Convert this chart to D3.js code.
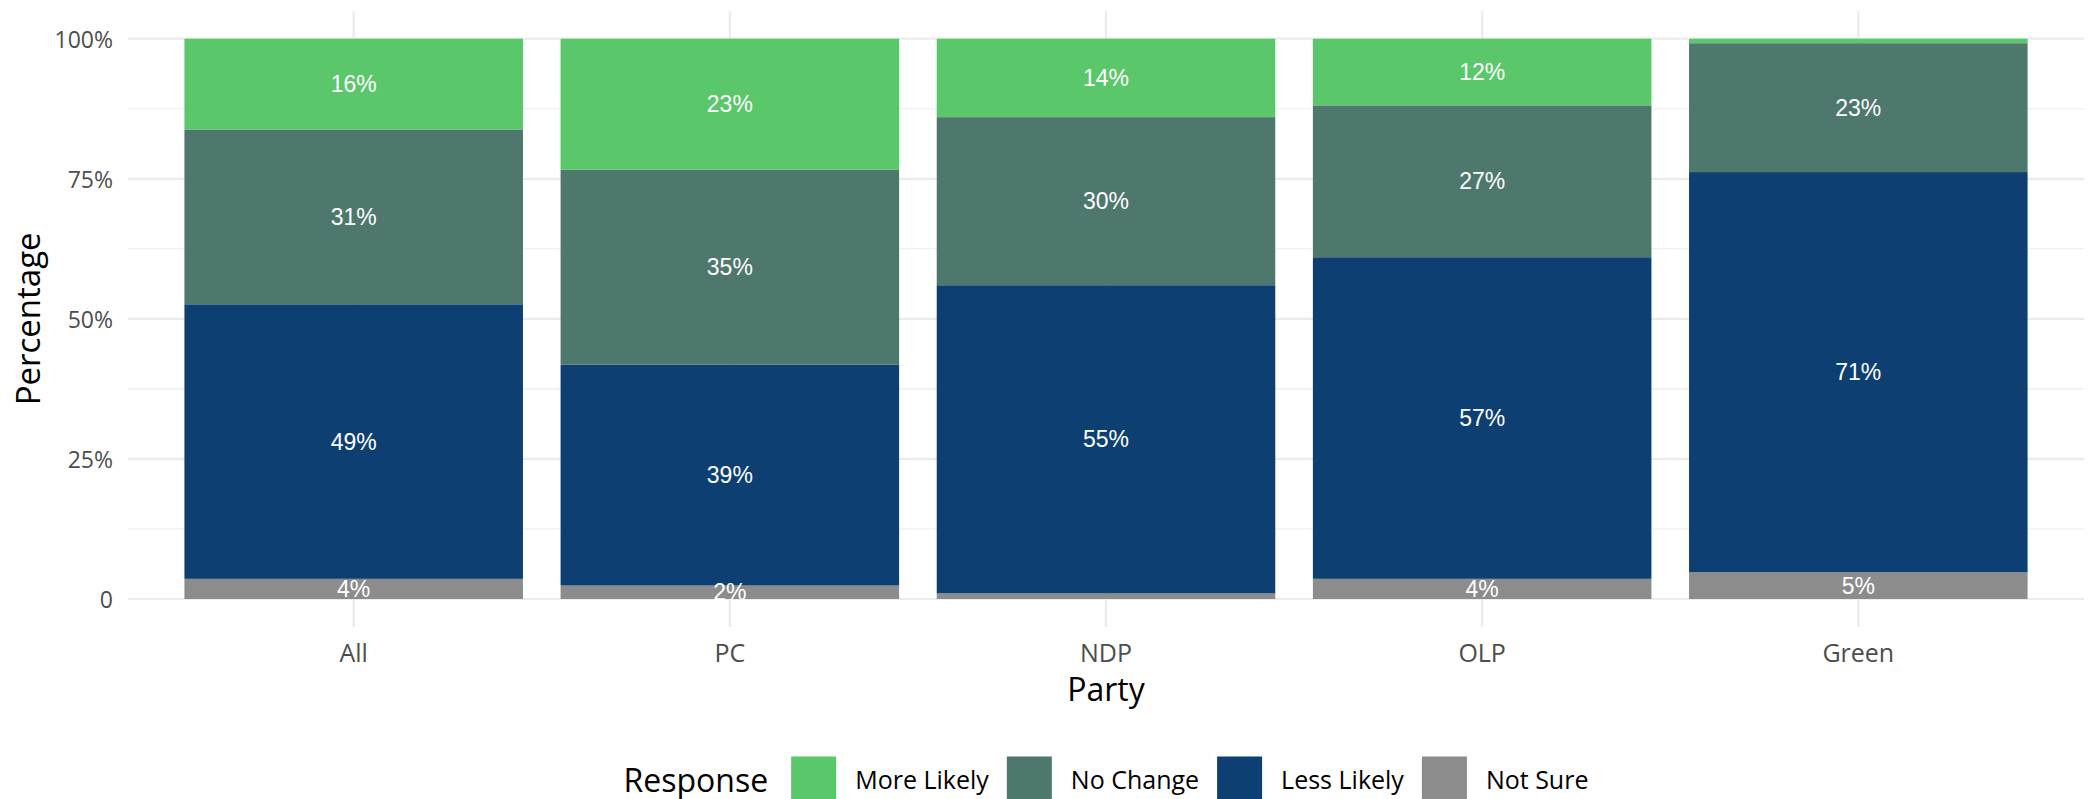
<!DOCTYPE html>
<html lang="en">
<head>
  <meta charset="UTF-8">
  <title>Response by party</title>
  <script src="https://d3js.org/d3.v7.min.js"></script>
  <style>
    body { margin: 0; background: #fff; }
    text { font-family: "Open Sans", sans-serif; }
  </style>
</head>
<body>
  <svg width="2092" height="799"></svg>
  <script>
    // data (percent)
    const parties = ["All", "PC", "NDP", "OLP", "Green"];
    const responses = ["More Likely", "No Change", "Less Likely", "Not Sure"];
    const moreLikely = [16.2, 23.4, 14.0, 11.9, 0.8];
    const noChange = [31.2, 34.8, 30.0, 27.1, 23.0];
    const lessLikely = [49.0, 39.4, 55.0, 57.4, 71.4];
    const notSure = [3.6, 2.4, 1.0, 3.6, 4.8];
    const yTicks = [0, 0.25, 0.5, 0.75, 1];
    const yTickLabels = ["0", "25%", "50%", "75%", "100%"];
    const yMinor = [0.125, 0.375, 0.625, 0.875];

    const colors = {
      "More Likely": "#59c76a",
      "No Change": "#4e776e",
      "Less Likely": "#0d3f73",
      "Not Sure": "#8c8c8c"
    };

    const rows = parties.map((p, i) => ({
      party: p,
      "More Likely": moreLikely[i] / 100,
      "No Change": noChange[i] / 100,
      "Less Likely": lessLikely[i] / 100,
      "Not Sure": notSure[i] / 100
    }));

    const svg = d3.select("svg");
    const panel = {left: 128, right: 2084, top: 10.7, bottom: 627};

    const x = d3.scaleBand()
      .domain(parties)
      .range([panel.left, panel.right])
      .paddingInner(0.1)
      .paddingOuter(0.15);
    const y = d3.scaleLinear()
      .domain([-0.05, 1.05])
      .range([panel.bottom, panel.top]);

    // grid
    const grid = svg.append("g");
    grid.selectAll("line.minor").data(yMinor).join("line")
      .attr("x1", panel.left).attr("x2", panel.right)
      .attr("y1", d => y(d)).attr("y2", d => y(d))
      .attr("stroke", "#ebebeb").attr("stroke-width", 1.1);
    grid.selectAll("line.major").data(yTicks).join("line")
      .attr("x1", panel.left).attr("x2", panel.right)
      .attr("y1", d => y(d)).attr("y2", d => y(d))
      .attr("stroke", "#ebebeb").attr("stroke-width", 2.2);
    grid.selectAll("line.vert").data(parties).join("line")
      .attr("x1", d => x(d) + x.bandwidth() / 2).attr("x2", d => x(d) + x.bandwidth() / 2)
      .attr("y1", panel.top).attr("y2", panel.bottom)
      .attr("stroke", "#ebebeb").attr("stroke-width", 2.2);

    // stacked bars, Not Sure at the bottom
    const stackKeys = ["Not Sure", "Less Likely", "No Change", "More Likely"];
    const series = d3.stack().keys(stackKeys)(rows);

    const layers = svg.append("g").selectAll("g").data(series).join("g")
      .attr("fill", d => colors[d.key]);
    layers.selectAll("rect").data(d => d).join("rect")
      .attr("x", d => x(d.data.party))
      .attr("width", x.bandwidth())
      .attr("y", d => y(d[1]))
      .attr("height", d => y(d[0]) - y(d[1]));

    // value labels
    const labels = svg.append("g");
    series.forEach(s => {
      s.forEach(d => {
        const v = d[1] - d[0];
        if (v < 0.02) return;
        labels.append("text")
          .attr("x", x(d.data.party) + x.bandwidth() / 2)
          .attr("y", y((d[0] + d[1]) / 2))
          .attr("text-anchor", "middle")
          .attr("dominant-baseline", "central")
          .style("font-family", "'Liberation Sans', Arial, sans-serif")
          .style("font-size", "23px")
          .attr("fill", "#fff")
          .text(Math.round(v * 100) + "%");
      });
    });

    // y axis labels
    svg.append("g").selectAll("text").data(yTicks).join("text")
      .attr("x", 113)
      .attr("y", d => y(d))
      .attr("text-anchor", "end")
      .attr("dominant-baseline", "central")
      .style("font-size", "23px")
      .attr("fill", "#4d4d4d")
      .text((d, i) => yTickLabels[i]);

    // x axis labels
    svg.append("g").selectAll("text").data(parties).join("text")
      .attr("x", d => x(d) + x.bandwidth() / 2)
      .attr("y", 652)
      .attr("text-anchor", "middle")
      .attr("dominant-baseline", "central")
      .style("font-size", "25px")
      .attr("fill", "#4d4d4d")
      .text(d => d);

    // axis titles
    svg.append("text")
      .attr("x", (panel.left + panel.right) / 2)
      .attr("y", 688)
      .attr("text-anchor", "middle")
      .attr("dominant-baseline", "central")
      .style("font-size", "32px")
      .text("Party");
    svg.append("text")
      .attr("transform", `translate(27,${(panel.top + panel.bottom) / 2}) rotate(-90)`)
      .attr("text-anchor", "middle")
      .attr("dominant-baseline", "central")
      .style("font-size", "33px")
      .text("Percentage");

    // legend
    const legend = svg.append("g");
    const legendY = 779;
    const keySize = 45;
    let cx = 0;
    const title = legend.append("text")
      .attr("x", cx).attr("y", legendY)
      .attr("dominant-baseline", "central")
      .style("font-size", "32px")
      .text("Response");
    cx += title.node().getComputedTextLength() + 23;
    responses.forEach(r => {
      legend.append("rect")
        .attr("x", cx).attr("y", legendY - keySize / 2)
        .attr("width", keySize).attr("height", keySize)
        .attr("fill", colors[r]);
      cx += keySize + 19;
      const t = legend.append("text")
        .attr("x", cx).attr("y", legendY)
        .attr("dominant-baseline", "central")
        .style("font-size", "25px")
        .attr("fill", "#000")
        .text(r);
      cx += t.node().getComputedTextLength() + 18;
    });
    const legendWidth = cx - 18;
    legend.attr("transform", `translate(${(panel.left + panel.right) / 2 - legendWidth / 2},0)`);
  </script>
</body>
</html>
